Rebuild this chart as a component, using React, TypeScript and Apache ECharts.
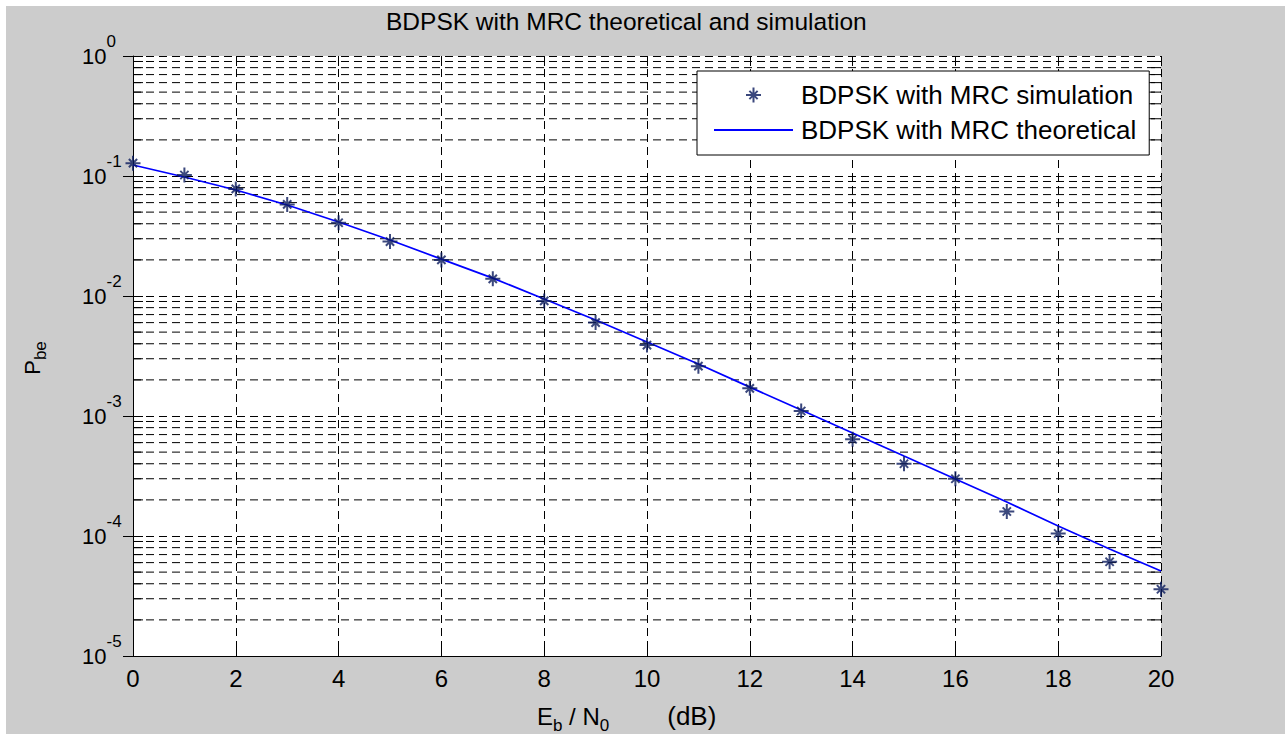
import { useEffect, useRef } from "react";
import * as echarts from "echarts";

// Eb/N0 in dB
const ebN0 = [0, 1, 2, 3, 4, 5, 6, 7, 8, 9, 10, 11, 12, 13, 14, 15, 16, 17, 18, 19, 20];

// Simulated bit error probability (BDPSK, MRC)
const simulated = [
  0.128, 0.102, 0.078, 0.058, 0.0408, 0.0284, 0.02, 0.0139, 0.0091, 0.006, 0.0039,
  0.0026, 0.0017, 0.0011, 0.00064, 0.0004, 0.0003, 0.00016, 0.000105, 0.000061, 0.000036,
];

// Theoretical bit error probability (BDPSK, MRC)
const theoretical = [
  0.1235, 0.0981, 0.0764, 0.0573, 0.0414, 0.0293, 0.0203, 0.0141, 0.00944, 0.00631, 0.00414,
  0.00271, 0.00174, 0.00112, 0.000722, 0.000464, 0.000299, 0.000192, 0.000121, 0.0000779, 0.0000511,
];

const X_MIN = 0;
const X_MAX = 20;
const X_STEP = 2;
const Y_MIN = 1e-5;
const Y_MAX = 1;

// Decades that carry minor grid lines at 2..9 x 10^k
const minorDecades = [-5, -4, -3, -2, -1];
const minorFactors = [2, 3, 4, 5, 6, 7, 8, 9];

const SIM_NAME = "BDPSK with MRC simulation";
const THEO_NAME = "BDPSK with MRC theoretical";
const TITLE = "BDPSK with MRC theoretical and simulation";

const FONT = "'Liberation Sans', Arial, Helvetica, sans-serif";
const STAR_COLOR = "#0a1a5c";
const LINE_COLOR = "#0000ff";
const GRID_COLOR = "#000";
const GRID_DASH = [8, 5];
const TICK_LEN = 10;

const STAR_PATH =
  "path://M0,-1 L0,1 M-1,0 L1,0 M-0.55,-0.55 L0.55,0.55 M-0.55,0.55 L0.55,-0.55";

export default function App() {
  const ref = useRef<HTMLDivElement>(null);

  useEffect(() => {
    if (!ref.current) return;
    const chart = echarts.init(ref.current, null, { renderer: "svg" });

    const minorValues: number[][] = [];
    minorDecades.forEach((e) => {
      minorFactors.forEach((m) => {
        minorValues.push([X_MIN, m * Math.pow(10, e)]);
      });
    });

    const axisLineStyle = { color: "#000", width: 1 };
    const gridLineStyle = { color: GRID_COLOR, width: 1, type: GRID_DASH };

    const option: any = {
      animation: false,
      backgroundColor: "#cccccc",
      textStyle: { fontFamily: FONT },
      grid: {
        left: 127,
        top: 50,
        width: 1028,
        height: 600,
        show: true,
        backgroundColor: "#ffffff",
        borderWidth: 0,
      },
      xAxis: [
        {
          type: "value",
          min: X_MIN,
          max: X_MAX,
          interval: X_STEP,
          axisLine: { show: true, lineStyle: axisLineStyle },
          axisTick: { inside: true, length: TICK_LEN, lineStyle: axisLineStyle },
          axisLabel: { color: "#000", fontSize: 24, fontFamily: FONT, margin: 10 },
          splitLine: { show: true, lineStyle: gridLineStyle },
        },
        {
          type: "value",
          position: "top",
          min: X_MIN,
          max: X_MAX,
          interval: X_STEP,
          axisLine: { show: false },
          axisTick: { show: true, inside: true, length: TICK_LEN, lineStyle: axisLineStyle },
          axisLabel: { show: false },
          splitLine: { show: false },
        },
      ],
      yAxis: [
        {
          type: "log",
          logBase: 10,
          min: Y_MIN,
          max: Y_MAX,
          splitNumber: 5,
          axisLine: { show: true, lineStyle: axisLineStyle },
          axisTick: { inside: true, length: TICK_LEN, lineStyle: axisLineStyle },
          axisLabel: {
            align: "left",
            margin: 51,
            formatter: (v: number) => `{b|10}{s|${Math.round(Math.log10(v))}}`,
            rich: {
              b: {
                fontSize: 22,
                lineHeight: 46,
                verticalAlign: "middle",
                color: "#000",
                fontFamily: FONT,
              },
              s: {
                fontSize: 17,
                lineHeight: 17,
                verticalAlign: "top",
                color: "#000",
                fontFamily: FONT,
              },
            },
          },
          splitLine: { show: true, lineStyle: gridLineStyle },
        },
        {
          type: "log",
          logBase: 10,
          position: "right",
          min: Y_MIN,
          max: Y_MAX,
          splitNumber: 5,
          axisLine: { show: false },
          axisTick: { show: true, inside: true, length: TICK_LEN, lineStyle: axisLineStyle },
          axisLabel: { show: false },
          splitLine: { show: false },
        },
      ],
      legend: {
        left: 691,
        top: 65,
        orient: "vertical",
        data: [{ name: SIM_NAME }, { name: THEO_NAME, itemStyle: { opacity: 0 } }],
        backgroundColor: "#fff",
        borderColor: "#000",
        borderWidth: 1,
        borderRadius: 0,
        padding: [11, 13, 12, 16],
        itemGap: 9,
        itemWidth: 79,
        itemHeight: 15,
        selectedMode: false,
        textStyle: { fontSize: 26, lineHeight: 26, color: "#000", fontFamily: FONT, padding: [0, 0, 0, 3] },
      },
      series: [
        {
          // minor log grid lines with their edge ticks
          type: "custom",
          silent: true,
          z: 1,
          data: minorValues,
          encode: { x: 0, y: 1 },
          renderItem: (_params: any, api: any) => {
            const v = api.value(1);
            const p0 = api.coord([X_MIN, v]);
            const p1 = api.coord([X_MAX, v]);
            return {
              type: "group",
              children: [
                {
                  type: "line",
                  shape: { x1: p0[0], y1: p0[1], x2: p1[0], y2: p1[1] },
                  style: { stroke: GRID_COLOR, lineWidth: 1, lineDash: GRID_DASH },
                },
                {
                  type: "line",
                  shape: { x1: p0[0], y1: p0[1], x2: p0[0] + TICK_LEN, y2: p0[1] },
                  style: { stroke: "#000", lineWidth: 1 },
                },
                {
                  type: "line",
                  shape: { x1: p1[0] - TICK_LEN, y1: p1[1], x2: p1[0], y2: p1[1] },
                  style: { stroke: "#000", lineWidth: 1 },
                },
              ],
            };
          },
        },
        {
          name: THEO_NAME,
          type: "line",
          z: 3,
          data: ebN0.map((x, i) => [x, theoretical[i]]),
          symbol: "none",
          showSymbol: false,
          itemStyle: { color: LINE_COLOR },
          lineStyle: { color: LINE_COLOR, width: 1.7 },
        },
        {
          name: SIM_NAME,
          type: "scatter",
          z: 4,
          data: ebN0.map((x, i) => [x, simulated[i]]),
          symbol: STAR_PATH,
          symbolSize: 15,
          symbolKeepAspect: true,
          itemStyle: { color: STAR_COLOR, borderColor: STAR_COLOR, borderWidth: 2 },
        },
      ],
      graphic: [
        {
          type: "text",
          x: 380,
          y: 15.5,
          style: {
            text: TITLE,
            fontSize: 24.5,
            fontFamily: FONT,
            fill: "#000",
            align: "left",
            verticalAlign: "middle",
          },
        },
        {
          type: "text",
          x: 531,
          y: 710,
          style: {
            text: "{m|E}{s|b}{m| / N}{s|0}{g|(dB)}",
            align: "left",
            verticalAlign: "middle",
            rich: {
              m: { fontSize: 24, lineHeight: 36, verticalAlign: "middle", fill: "#000", fontFamily: FONT },
              s: { fontSize: 17, lineHeight: 17, verticalAlign: "bottom", fill: "#000", fontFamily: FONT },
              g: { fontSize: 26, lineHeight: 36, padding: [0, 0, 0, 58], verticalAlign: "middle", fill: "#000", fontFamily: FONT },
            },
          },
        },
        {
          type: "text",
          x: 26,
          y: 352,
          rotation: Math.PI / 2,
          style: {
            text: "{p|P}{s|be}",
            align: "center",
            verticalAlign: "middle",
            rich: {
              p: { fontSize: 22, lineHeight: 34, verticalAlign: "middle", fill: "#000", fontFamily: FONT },
              s: { fontSize: 17, lineHeight: 17, verticalAlign: "bottom", fill: "#000", fontFamily: FONT },
            },
          },
        },
      ],
    };

    chart.setOption(option);
    return () => chart.dispose();
  }, []);

  return (
    <div
      ref={ref}
      style={{ position: "absolute", left: 6, top: 6, width: 1279, height: 728 }}
    />
  );
}
